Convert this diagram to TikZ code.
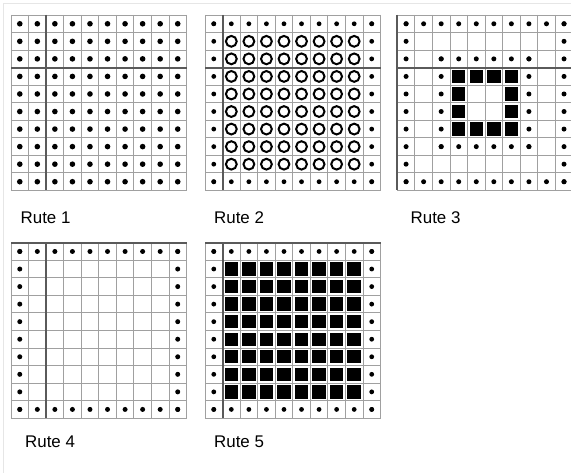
\documentclass[tikz,border=0pt]{standalone}
\usepackage{fontspec}
\setmainfont{Liberation Sans}
\definecolor{gridgray}{HTML}{A0A0A0}
\definecolor{thickgray}{HTML}{5A5A5A}
\definecolor{framegray}{HTML}{E6E6E6}
\newcommand\rtdot[2]{\fill (#1+.5,#2+.5) circle[radius=\rtdotr];}
\newcommand\rtring[2]{\draw[line width=2pt] (#1+.5,#2+.5) circle[radius=5.4pt];}
\newcommand\rtsq[2]{\fill (#1+.5,#2+.5) +(-6.7pt,-6.7pt) rectangle +(6.7pt,6.7pt);}
\newcommand\rtborder{\foreach \i in {0,...,9} {\rtdot{\i}{0}\rtdot{\i}{9}\rtdot{0}{\i}\rtdot{9}{\i}}}
\newcommand\rtgridlines{\foreach \i in {0,...,10} {\draw[rtgridline] (\i,0) -- (\i,10); \draw[rtgridline] (0,\i) -- (10,\i);}}
\def\rtdotr{2.8pt}
\begin{document}
\begin{tikzpicture}[x=1pt,y=-1pt,
  rtgridline/.style={draw=gridgray,line width=0.9pt},
  rtthickline/.style={draw=thickgray,line width=2.1pt},
  rtcells/.style={x=17.55pt,y=-17.55pt},
  rtlbl/.style={anchor=base west,inner sep=0pt,font=\fontsize{16.9}{20}\selectfont}]
\useasboundingbox (0,0) rectangle (571,473);
\clip (0,0) rectangle (571,473);
\fill[white] (0,0) rectangle (571,473);
\draw[framegray,line width=1pt] (3,473) -- (3,4) -- (571,4);
% Grid 1
\begin{scope}[rtcells,shift={(11pt,-15pt)}]
  \rtgridlines
  \draw[rtthickline] (2,0) -- (2,10);
  \draw[rtthickline] (0,3) -- (10,3);
  \foreach \r in {0,...,9} {\foreach \c in {0,...,9} {\rtdot{\c}{\r}}}
\end{scope}
% Grid 2
\begin{scope}[rtcells,shift={(205pt,-15pt)}]
  \rtgridlines
  \draw[rtthickline] (1,0) -- (1,10);
  \draw[rtthickline] (0,3) -- (10,3);
  \def\rtdotr{2.4pt}
  \rtborder
  \foreach \r in {1,...,8} {\foreach \c in {1,...,8} {\rtring{\c}{\r}}}
\end{scope}
% Grid 3
\begin{scope}[rtcells,shift={(397.3pt,-15pt)}]
  \rtgridlines
  \draw[rtthickline] (0,0) -- (0,10);
  \draw[rtthickline] (0,3) -- (10,3);
  \def\rtdotr{2.5pt}
  \rtborder
  \foreach \i in {2,...,7} {\rtdot{\i}{2}\rtdot{\i}{7}\rtdot{2}{\i}\rtdot{7}{\i}}
  \foreach \i in {3,...,6} {\rtsq{\i}{3}\rtsq{\i}{6}\rtsq{3}{\i}\rtsq{6}{\i}}
\end{scope}
% Grid 4
\begin{scope}[rtcells,shift={(11pt,-242.7pt)}]
  \rtgridlines
  \draw[rtthickline] (2,0) -- (2,10);
  \draw[rtthickline] (0,0) -- (10,0);
  \def\rtdotr{2.5pt}
  \rtborder
\end{scope}
% Grid 5
\begin{scope}[rtcells,shift={(205pt,-242.7pt)}]
  \rtgridlines
  \draw[rtthickline] (1,0) -- (1,10);
  \draw[rtthickline] (0,0) -- (10,0);
  \def\rtdotr{2.4pt}
  \rtborder
  \foreach \r in {1,...,8} {\foreach \c in {1,...,8} {\rtsq{\c}{\r}}}
\end{scope}
% Labels
\node[rtlbl] (l1) at (20.5,224) {Rute 1};
\node[rtlbl] (l2) at (214,224) {Rute 2};
\node[rtlbl] (l3) at (410.5,224) {Rute 3};
\node[rtlbl] (l4) at (25,447) {Rute 4};
\node[rtlbl] (l5) at (214,447) {Rute 5};
\end{tikzpicture}
\end{document}
